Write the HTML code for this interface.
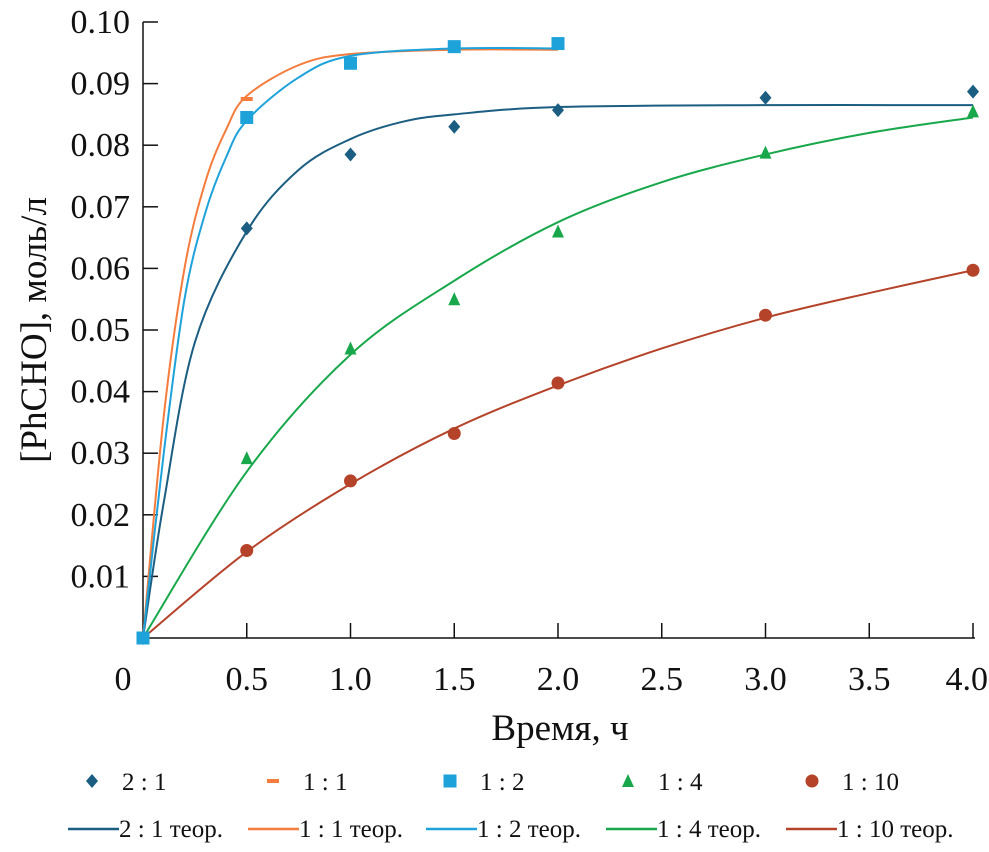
<!DOCTYPE html>
<html><head><meta charset="utf-8"><style>
body{margin:0;background:#fff;}
svg text{font-family:"Liberation Serif",serif;fill:#111;}
</style></head><body>
<svg id="chart" width="989" height="847" xmlns="http://www.w3.org/2000/svg">
<g id="axes"></g><g id="series"></g><g id="legend"></g>
</svg>
<script>
const xTicks=[0,0.5,1.0,1.5,2.0,2.5,3.0,3.5,4.0];
const xTickLabels=["0","0.5","1.0","1.5","2.0","2.5","3.0","3.5","4.0"];
const yTicks=[0.01,0.02,0.03,0.04,0.05,0.06,0.07,0.08,0.09,0.10];
const yTickLabels=["0.01","0.02","0.03","0.04","0.05","0.06","0.07","0.08","0.09","0.10"];
const seriesNames=["2 : 1","1 : 1","1 : 2","1 : 4","1 : 10"];
const colors=["#1b5e82","#f47c3c","#1ea2da","#18a84b","#b5432a"];
const t21=[0,0.5,1,1.5,2,3,4];
const v21=[0,0.0665,0.0785,0.083,0.0857,0.0877,0.0887];
const t11=[0,0.5];
const v11=[0,0.0875];
const t12=[0,0.5,1,1.5,2];
const v12=[0,0.0845,0.0933,0.096,0.0965];
const t14=[0,0.5,1,1.5,2,3,4];
const v14=[0,0.0292,0.047,0.055,0.066,0.0788,0.0855];
const t110=[0,0.5,1,1.5,2,3,4];
const v110=[0,0.0142,0.0255,0.0332,0.0414,0.0524,0.0597];
const th21t=[0,0.1,0.25,0.5,0.75,1.0,1.25,1.5,2,3,4];
const th21v=[0,0.022,0.048,0.066,0.076,0.081,0.0838,0.085,0.0862,0.0865,0.0865];
const th11t=[0,0.1,0.2,0.3,0.4,0.5,0.75,1,1.5,2];
const th11v=[0,0.036,0.06,0.074,0.0825,0.088,0.093,0.0948,0.0955,0.0955];
const th12t=[0,0.1,0.2,0.3,0.4,0.5,0.75,1,1.5,2];
const th12v=[0,0.03,0.055,0.069,0.078,0.084,0.091,0.0945,0.0957,0.0957];
const th14t=[0,0.5,1,1.5,2,2.5,3,3.5,4];
const th14v=[0,0.027,0.046,0.058,0.0675,0.074,0.0785,0.082,0.0845];
const th110t=[0,0.5,1,1.5,2,2.5,3,3.5,4];
const th110v=[0,0.014,0.025,0.034,0.041,0.047,0.052,0.056,0.0597];

const NS="http://www.w3.org/2000/svg";
const X=t=>143+t*207.5;
const Y=v=>638-v*6160;
function mk(tag,attrs,parent){const e=document.createElementNS(NS,tag);for(const k in attrs)e.setAttribute(k,attrs[k]);parent.appendChild(e);return e;}
const axes=document.getElementById('axes'),ser=document.getElementById('series'),leg=document.getElementById('legend');
let e=mk('line',{x1:143,y1:Y(0.1),x2:143,y2:639,stroke:'#111','stroke-width':1.5},axes);

e=mk('line',{x1:143,y1:638,x2:975,y2:638,stroke:'#111','stroke-width':1.5},axes);

xTicks.forEach((t,i)=>{
 if(i>0){const l=mk('line',{x1:X(t),y1:638,x2:X(t),y2:623,stroke:'#111','stroke-width':1.5},axes);
 }
 const last=i==xTicks.length-1;
 const tx=mk('text',{x:i==0?123:(last?988:X(t)),y:690,'font-size':34,'text-anchor':last?'end':'middle'},axes);tx.textContent=xTickLabels[i];
 
});
yTicks.forEach((v,i)=>{
 const l=mk('line',{x1:143,y1:Y(v),x2:158,y2:Y(v),stroke:'#111','stroke-width':1.5},axes);
 
 const tx=mk('text',{x:130,y:Y(v)+11,'font-size':34,'text-anchor':'end'},axes);tx.textContent=yTickLabels[i];
 
});
e=mk('text',{x:560,y:740,'font-size':37,'text-anchor':'middle'},axes);e.textContent='Время, ч';

e=mk('text',{x:0,y:0,'font-size':37,'text-anchor':'middle',transform:'translate(46,330) rotate(-90)'},axes);e.textContent='[PhCHO], моль/л';


const theo=[[th21t,th21v],[th11t,th11v],[th12t,th12v],[th14t,th14v],[th110t,th110v]];
function smooth(ts,vs){const p=ts.map((t,i)=>[X(t),Y(vs[i])]);let d='M'+p[0][0]+','+p[0][1];
 for(let i=0;i<p.length-1;i++){const p0=p[Math.max(0,i-1)],p1=p[i],p2=p[i+1],p3=p[Math.min(p.length-1,i+2)];
 d+=' C'+(p1[0]+(p2[0]-p0[0])/6)+','+(p1[1]+(p2[1]-p0[1])/6)+' '+(p2[0]-(p3[0]-p1[0])/6)+','+(p2[1]-(p3[1]-p1[1])/6)+' '+p2[0]+','+p2[1];}
 return d;}
const theoNames=['theory-line-2-1','theory-line-1-1','theory-line-1-2','theory-line-1-4','theory-line-1-10'];
theo.forEach((s,i)=>{const p=mk('path',{d:smooth(s[0],s[1]),fill:'none',stroke:colors[i],'stroke-width':2},ser);
 });
function marker(k,x,y,g){let m;
 if(k==0)m=mk('path',{d:`M${x},${y-7} L${x+6},${y} L${x},${y+7} L${x-6},${y}Z`,fill:colors[0]},g);
 else if(k==1)m=mk('rect',{x:x-6,y:y-2,width:12,height:4,fill:colors[1]},g);
 else if(k==2)m=mk('rect',{x:x-6.5,y:y-6.5,width:13,height:13,fill:colors[2]},g);
 else if(k==3)m=mk('path',{d:`M${x},${y-7} L${x+6},${y+6} L${x-6},${y+6}Z`,fill:colors[3]},g);
 else m=mk('circle',{cx:x,cy:y,r:6.5,fill:colors[4]},g);
 return m;}
const pts=[[t21,v21],[t11,v11],[t12,v12],[t14,v14],[t110,v110]];
const ptNames=['point-2-1','point-1-1','point-1-2','point-1-4','point-1-10'];
[4,3,0,1,2].forEach(k=>{pts[k][0].forEach((t,i)=>{const m=marker(k,X(t),Y(pts[k][1][i]),ser);
 });});
const lmx=[92,273,450,628,812];
seriesNames.forEach((n,i)=>{const m=marker(i,lmx[i],781,leg);
 
 const t=mk('text',{x:lmx[i]+30,y:790,'font-size':25},leg);t.textContent=n;
 });
const llx=[68,248,426,606,786];
seriesNames.forEach((n,i)=>{const l=mk('line',{x1:llx[i],y1:829,x2:llx[i]+51,y2:829,stroke:colors[i],'stroke-width':2.5},leg);
 
 const t=mk('text',{x:llx[i]+51,y:837,'font-size':25},leg);t.textContent=n+' теор.';
 });
</script>
</body></html>
